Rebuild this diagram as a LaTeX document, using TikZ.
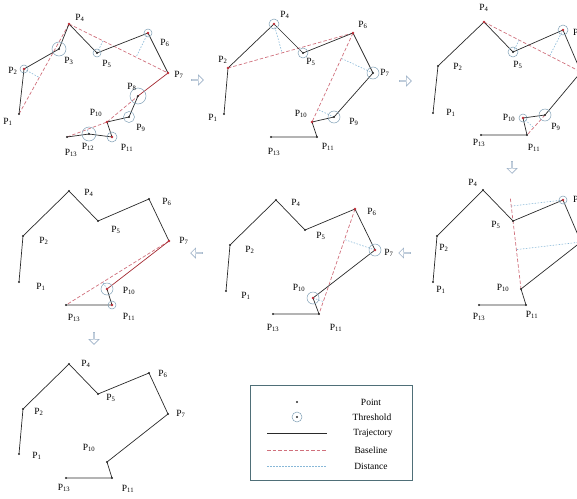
\documentclass[tikz,border=0pt]{standalone}
\usepackage{fontspec}
\setmainfont{Liberation Serif}
\usetikzlibrary{calc,shapes.arrows}
\definecolor{basec}{HTML}{D0707C}
\definecolor{distc}{HTML}{88B8D8}
\definecolor{thrc}{HTML}{7F9FB5}
\definecolor{trajc}{HTML}{2A2A2A}
\definecolor{redc}{HTML}{C0303A}
\definecolor{arrc}{HTML}{9FB3C8}
\definecolor{boxc}{HTML}{4F6F78}
\tikzset{
 traj/.style={draw=trajc,line width=0.7pt},
 trajr/.style={draw=redc!85!black,line width=0.7pt},
 base/.style={draw=basec,line width=0.7pt,dash pattern=on 3.5pt off 2pt},
 dist/.style={draw=distc,line width=0.6pt,dash pattern=on 1.5pt off 1.5pt},
 thr/.style={draw=thrc,line width=0.5pt},
 lab/.style={font=\fontsize{9.5}{11}\selectfont,inner sep=0pt},
 legtxt/.style={font=\fontsize{9.5}{11}\selectfont,inner sep=0pt},
 flowr/.style={single arrow,draw=arrc,fill=white,line width=0.6pt,minimum height=12pt,minimum width=10pt,single arrow head extend=2pt,inner sep=0pt},
}
\begin{document}
\begin{tikzpicture}[x=1pt,y=-1pt]
\useasboundingbox (0,0) rectangle (577,498);

% ---------------- Panel 1 ----------------
\foreach \n/\x/\y in {1/19/114,2/24/69,3/59/49,4/69/24,5/97/53,6/148/33,7/168/73,8/138/96,9/129/117,10/107/122,11/112/137,12/89/134,13/67/137}
  \coordinate (a\n) at (\x,\y);
\draw[base] (a1) -- (a4);
\draw[base] (a4) -- (a7);
\draw[base] (a13) -- (a10);
\draw[base] (a10) -- (a8);
\draw[dist] (a2) -- ($(a1)!(a2)!(a4)$);
\draw[dist] (a5) -- ($(a4)!(a5)!(a7)$);
\draw[dist] (a6) -- ($(a4)!(a6)!(a7)$);
\draw[dist] (a12) -- ($(a13)!(a12)!(a10)$);
\draw[traj] (a1) -- (a2) -- (a3) -- (a4) -- (a5) -- (a6) -- (a7);
\draw[trajr] (a7) -- (a8);
\draw[traj] (a8) -- (a9) -- (a10) -- (a11) -- (a12) -- (a13);
\foreach \n/\r in {2/4,3/7,5/4,6/4,8/8,9/5.5,11/5,12/7}
  \draw[thr] (a\n) circle (\r);
\foreach \n in {1,3,5,8,9,12,13} \fill[trajc] (a\n) circle (1.2);
\foreach \n in {2,4,6,7,10,11} \fill[redc] (a\n) circle (1.4);
\foreach \n/\x/\y in {1/8/122,2/13/71,3/69/61,4/80/18,5/107/64,6/165/43,7/179/75,8/132/87,9/141/128,10/96/113,11/127/148,12/88/147,13/71/153}
  \node[lab] (la\n) at (\x,\y) {P\textsubscript{\n}};

% ---------------- Panel 2 ----------------
\foreach \n/\x/\y in {1/224/114,2/228/68,4/274/24,5/303/53,6/353/33,7/373/73,9/334/117,10/312/122,11/317/137,13/271/137}
  \coordinate (b\n) at (\x,\y);
\draw[base] (b2) -- (b6);
\draw[base] (b6) -- (b10);
\draw[dist] (b4) -- ($(b2)!(b4)!(b6)$);
\draw[dist] (b7) -- ($(b6)!(b7)!(b10)$);
\draw[dist] (b9) -- ($(b6)!(b9)!(b10)$);
\draw[traj] (b1) -- (b2) -- (b4) -- (b5) -- (b6) -- (b7) -- (b9) -- (b10) -- (b11) -- (b13);
\foreach \n/\r in {4/5,5/5,7/6,9/6}
  \draw[thr] (b\n) circle (\r);
\foreach \n in {1,5,7,9,11,13} \fill[trajc] (b\n) circle (1.2);
\foreach \n in {2,4,6,10} \fill[redc] (b\n) circle (1.4);
\foreach \n/\x/\y in {1/213/118,2/223/60,4/285/15,5/311/62,6/363/25,7/385/73,9/354/122,10/301/114,11/328/147,13/274/152}
  \node[lab] (lb\n) at (\x,\y) {P\textsubscript{\n}};

% ---------------- Panel 3 ----------------
\foreach \n/\x/\y in {1/433/113,2/438/66,4/484/22,5/513/52,6/563/30,7/581/72,9/545/115,10/523/118,11/527/135,13/481/135}
  \coordinate (c\n) at (\x,\y);
\draw[base] (c4) -- (c7);
\draw[base] (c9) -- (c11);
\draw[dist] (c5) -- ($(c4)!(c5)!(c7)$);
\draw[dist] (c6) -- ($(c4)!(c6)!(c7)$);
\draw[dist] (c10) -- ($(c9)!(c10)!(c11)$);
\draw[traj] (c1) -- (c2) -- (c4) -- (c5) -- (c6) -- (c7) -- (c9) -- (c10) -- (c11) -- (c13);
\foreach \n/\r in {5/5,6/5,9/6,10/4}
  \draw[thr] (c\n) circle (\r);
\foreach \n in {1,2,5,9,11,13} \fill[trajc] (c\n) circle (1.2);
\foreach \n in {4,6,10} \fill[redc] (c\n) circle (1.4);
\foreach \n/\x/\y in {1/451/113,2/458/67,4/484/8,5/518/65,9/556/127,10/509/118,11/534/148,13/479/143}
  \node[lab] (lc\n) at (\x,\y) {P\textsubscript{\n}};
\node[lab,anchor=west] (lc6) at (573,33) {P\textsubscript{6}};

% ---------------- Panel 4 (middle left) ----------------
\foreach \n/\x/\y in {1/19/282,2/23/236,4/69/191,5/98/221,6/149/199,7/169/241,10/107/289,11/112/305,13/66/305}
  \coordinate (d\n) at (\x,\y);
\draw[base] (d7) -- (d13);
\draw[dist] (d10) -- ($(d7)!(d10)!(d13)$);
\draw[traj] (d1) -- (d2) -- (d4) -- (d5) -- (d6) -- (d7);
\draw[trajr] (d7) -- (d10);
\draw[traj] (d10) -- (d11) -- (d13);
\foreach \n/\r in {10/6,11/4}
  \draw[thr] (d\n) circle (\r);
\foreach \n in {1,2,4,5,6,13} \fill[trajc] (d\n) circle (1.2);
\foreach \n in {7,10,11} \fill[redc] (d\n) circle (1.4);
\foreach \n/\x/\y in {1/41/287,2/44/241,4/89/193,5/116/230,6/167/202,7/184/241,10/129/291,11/129/317,13/74/318}
  \node[lab] (ld\n) at (\x,\y) {P\textsubscript{\n}};

% ---------------- Panel 5 (middle centre) ----------------
\foreach \n/\x/\y in {1/226/291,2/230/245,4/276/200,5/305/230,6/355/209,7/375/250,10/313/298,11/319/314,13/273/314}
  \coordinate (e\n) at (\x,\y);
\draw[base] (e6) -- (e11);
\draw[dist] (e7) -- ($(e6)!(e7)!(e11)$);
\draw[dist] (e10) -- ($(e6)!(e10)!(e11)$);
\draw[traj] (e1) -- (e2) -- (e4) -- (e5) -- (e6) -- (e7) -- (e10) -- (e11) -- (e13);
\foreach \n/\r in {7/6,10/6}
  \draw[thr] (e\n) circle (\r);
\foreach \n in {1,2,4,5,11,13} \fill[trajc] (e\n) circle (1.2);
\foreach \n in {6,7,10} \fill[redc] (e\n) circle (1.4);
\foreach \n/\x/\y in {1/246/296,2/250/250,4/296/203,5/321/236,6/372/212,7/389/253,10/299/288,11/336/328,13/273/328}
  \node[lab] (le\n) at (\x,\y) {P\textsubscript{\n}};

% ---------------- Panel 6 (middle right) ----------------
\foreach \n/\x/\y in {1/433/282,2/437/236,4/483/190,5/513/221,6/563/200,7/581/242,10/521/289,11/526/305,13/479/305}
  \coordinate (f\n) at (\x,\y);
\coordinate (ftop) at ($(f10)!1.33!(f5)$);
\draw[base] (ftop) -- (f10);
\draw[dist] (f6) -- ($(f10)!(f6)!(f5)$);
\draw[dist] (f7) -- ($(f10)!(f7)!(f5)$);
\draw[traj] (f1) -- (f2) -- (f4) -- (f5) -- (f6) -- (f7) -- (f10) -- (f11) -- (f13);
\draw[thr] (f6) circle (4);
\foreach \n in {1,2,4,5,10,11,13} \fill[trajc] (f\n) circle (1.2);
\fill[redc] (f6) circle (1.4);
\foreach \n/\x/\y in {1/441/290,2/444/248,4/473/183,5/496/225,10/503/288,11/532/315,13/479/317}
  \node[lab] (lf\n) at (\x,\y) {P\textsubscript{\n}};
\node[lab,anchor=west] (lf6) at (573,200) {P\textsubscript{6}};

% ---------------- Panel 7 (bottom) ----------------
\foreach \n/\x/\y in {1/19/454,2/23/409,4/69/364,5/98/394,6/149/373,7/168/414,10/107/462,11/112/478,13/66/478}
  \coordinate (g\n) at (\x,\y);
\draw[traj] (g1) -- (g2) -- (g4) -- (g5) -- (g6) -- (g7) -- (g10) -- (g11) -- (g13);
\foreach \n in {1,2,4,5,6,7,10,11,13} \fill[trajc] (g\n) circle (1.2);
\foreach \n/\x/\y in {1/37/456,2/39/412,4/86/364,5/111/398,6/163/374,7/181/414,10/89/448,11/128/489,13/64/488}
  \node[lab] (lg\n) at (\x,\y) {P\textsubscript{\n}};

% ---------------- Flow arrows ----------------
\node[flowr] (ar1) at (197,80) {};
\node[flowr] (ar2) at (405,81) {};
\node[flowr,rotate=-90] (ar3) at (512,167) {};
\node[flowr,rotate=180] (ar4) at (405,253) {};
\node[flowr,rotate=180] (ar5) at (197,253) {};
\node[flowr,rotate=-90] (ar6) at (94,338) {};

% ---------------- Legend ----------------
\node[draw=boxc,line width=0.9pt,minimum width=162pt,minimum height=95pt,inner sep=0pt] (legend) at (331,432.5) {};
\coordinate (lpt) at (297,402);
\coordinate (lthr) at (297,417);
\coordinate (ltA) at (267,433); \coordinate (ltB) at (327,433);
\coordinate (lbA) at (267,450); \coordinate (lbB) at (327,450);
\coordinate (ldA) at (267,466); \coordinate (ldB) at (327,466);
\fill[trajc] (lpt) circle (1.2);
\draw[thr] (lthr) circle (5);
\fill[trajc] (lthr) circle (1.2);
\draw[traj] (ltA) -- (ltB);
\draw[base] (lbA) -- (lbB);
\draw[dist] (ldA) -- (ldB);
\node[legtxt] (tpt) at (371,402) {Point};
\node[legtxt] (tthr) at (372,417) {Threshold};
\node[legtxt] (ttr) at (373,433) {Trajectory};
\node[legtxt] (tbl) at (371,450) {Baseline};
\node[legtxt] (tds) at (371,466) {Distance};
\end{tikzpicture}
\end{document}
